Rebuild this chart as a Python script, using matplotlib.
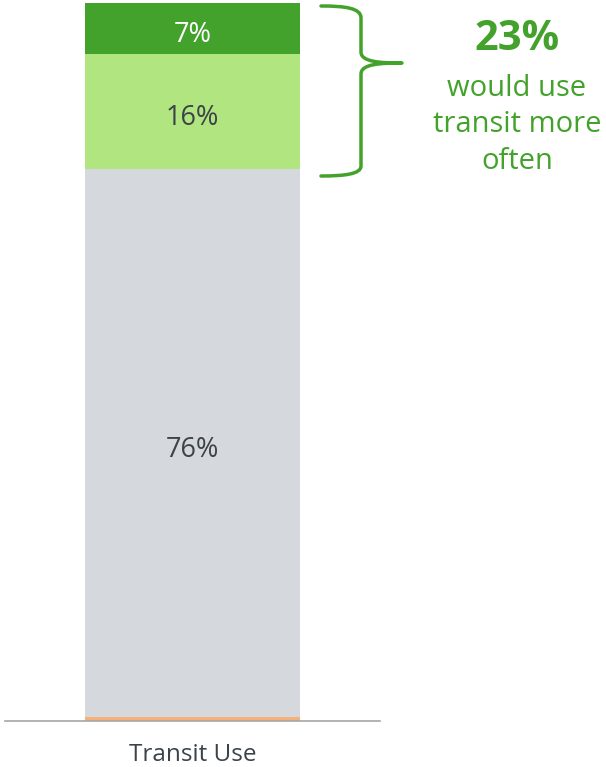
import matplotlib.pyplot as plt
from matplotlib.path import Path
from matplotlib.patches import PathPatch

plt.rcParams['font.family'] = ['Open Sans', 'DejaVu Sans']

# stacked shares for one category, bottom to top
category = 'Transit Use'
segments = ['Other', 'No change', 'Somewhat more', 'Much more']
values = [0.5, 76, 16, 7]
labels = ['', '76%', '16%', '7%']
colors = ['#f6b07a', '#d5d9dd', '#b1e580', '#43a22b']
label_colors = ['#3b4349', '#3b4349', '#3b4349', 'white']
total_more = 23

fig = plt.figure(figsize=(6.06, 7.67), dpi=100)
ax = fig.add_axes([5 / 606, 46 / 767, 375 / 606, 718 / 767])

bottom = 0
for v, lab, c, lc in zip(values, labels, colors, label_colors):
    ax.bar(0, v, bottom=bottom, width=0.571, color=c, edgecolor='none')
    if lab:
        ax.annotate(lab, (0, bottom + v / 2), xytext=(0, -2.5),
                    textcoords='offset points', ha='center',
                    va='center_baseline', fontsize=19.5, color=lc)
    bottom += v

ax.set_xlim(-0.5, 0.5)
ax.set_ylim(0, sum(values))
for s in ['top', 'right', 'left']:
    ax.spines[s].set_visible(False)
ax.spines['bottom'].set_color('#a6a6a6')
ax.spines['bottom'].set_linewidth(1.2)
ax.set_yticks([])
ax.set_xticks([0])
ax.set_xticklabels([category], fontsize=17.5, color='#3b4349')
ax.tick_params(axis='x', length=0, pad=16)

# overlay in pixel units for the brace and callout
ov = fig.add_axes([0, 0, 1, 1])
ov.set_xlim(0, 606)
ov.set_ylim(767, 0)
ov.axis('off')

green = '#43a22b'
verts = [
    (321, 6), (345, 6), (361, 8), (361, 18),
    (361, 52),
    (361, 62), (380, 63), (402, 63),
    (380, 63), (361, 64), (361, 74),
    (361, 166),
    (361, 174), (345, 176), (321, 176),
]
codes = [Path.MOVETO, Path.CURVE4, Path.CURVE4, Path.CURVE4,
         Path.LINETO,
         Path.CURVE4, Path.CURVE4, Path.CURVE4,
         Path.CURVE4, Path.CURVE4, Path.CURVE4,
         Path.LINETO,
         Path.CURVE4, Path.CURVE4, Path.CURVE4]
ov.add_patch(PathPatch(Path(verts, codes), fill=False, edgecolor=green, lw=2.5,
                       capstyle='round', joinstyle='round'))

ov.text(517, 40, f'{total_more}%', ha='center', va='center', fontsize=30,
        fontweight='bold', color=green)
ov.text(517, 125, 'would use\ntransit more\noften', ha='center', va='center',
        fontsize=21, color=green, linespacing=1.36)

fig.savefig('out.png', dpi=100)
